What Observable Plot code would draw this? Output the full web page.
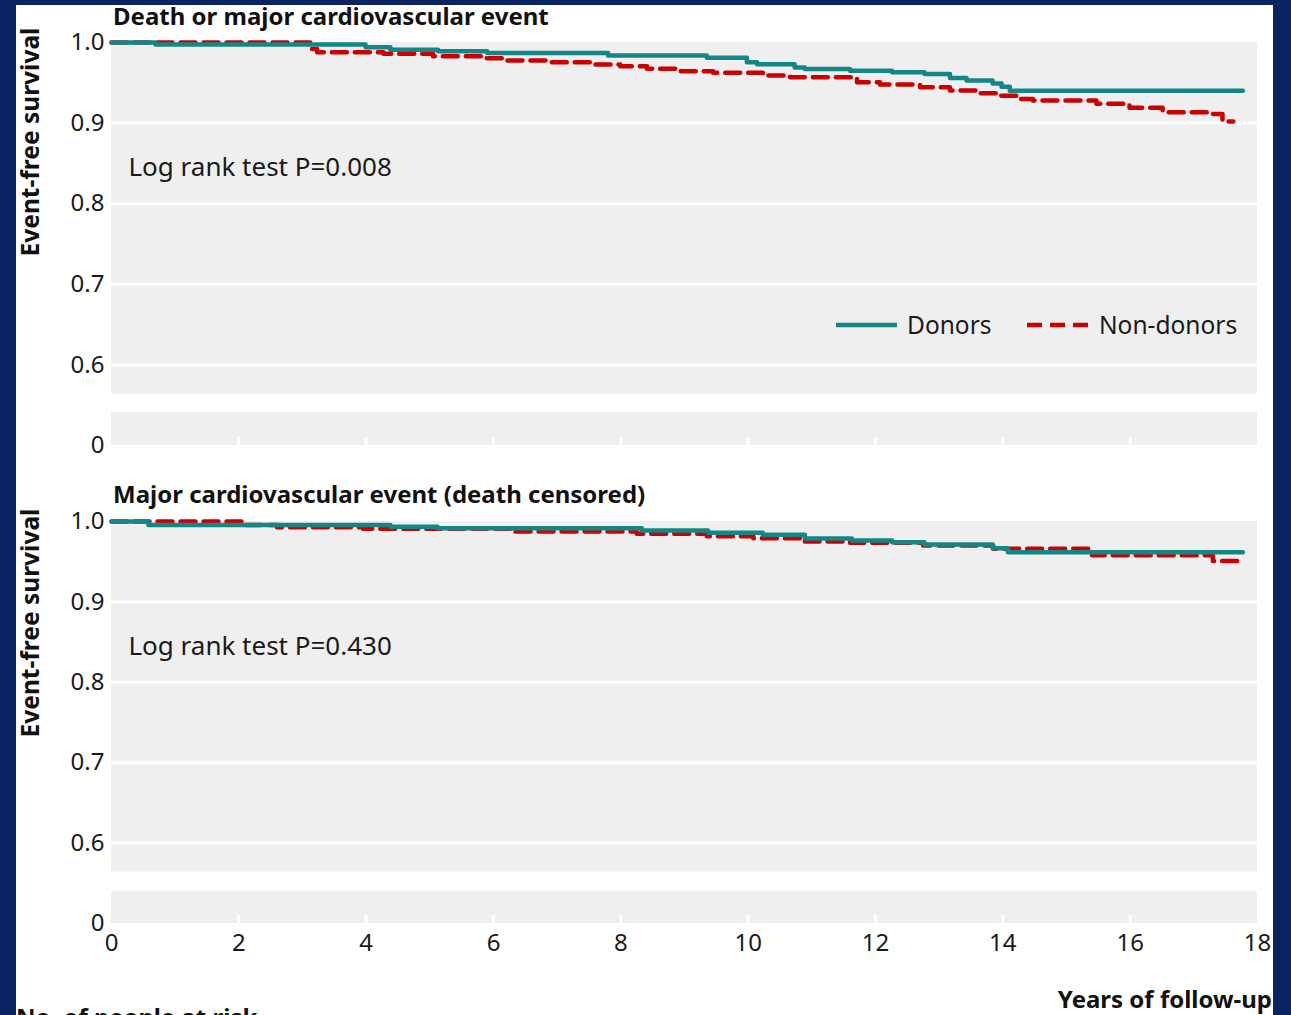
<!DOCTYPE html>
<html>
<head>
<meta charset="utf-8">
<script src="https://cdn.jsdelivr.net/npm/d3@7"></script>
<script src="https://cdn.jsdelivr.net/npm/@observablehq/plot@0.6"></script>
<style>
  html, body { margin: 0; padding: 0; }
  body { background: #0b2360; width: 1291px; height: 1015px; overflow: hidden; position: relative; font-family: "Noto Sans", sans-serif; color: #111; }
  #card { position: absolute; left: 16px; top: 5px; width: 1257px; height: 1040px; background: #ffffff; }
  .abs { position: absolute; white-space: nowrap; }
  .title { font-weight: bold; font-size: 24px; line-height: 28px; color: #111; }
  .ylab { font-weight: bold; font-size: 24.5px; line-height: 28px; height: 28px; width: 300px; text-align: center; transform: rotate(-90deg); transform-origin: 50% 50%; color: #111; }
  .leg { font-size: 24.5px; line-height: 30px; color: #1a1a1a; }
  svg.plot { position: absolute; }
</style>
</head>
<body>
<div id="card"></div>
<script>
// ---------------- data ----------------
const seriesNames = ["Donors", "Non-donors"];
const seriesColors = ["#138785", "#cc0000"];
const xTicks = [0, 2, 4, 6, 8, 10, 12, 14, 16, 18];
const yTicks = [0.6, 0.7, 0.8, 0.9, 1.0];
const gridTicks = [0.6, 0.7, 0.8, 0.9];

// Panel 1: Death or major cardiovascular event
const panel1Title = "Death or major cardiovascular event";
const panel1LogRank = "Log rank test P=0.008";
const donorsDeathYears = [0, 0.69, 3.99, 4.38, 5.13, 5.90, 7.80, 9.35, 9.98, 10.14, 10.73, 10.89, 11.60, 12.26, 12.77, 13.17, 13.43, 13.84, 13.98, 14.11, 17.77];
const donorsDeathSurv  = [1.000, 0.9975, 0.994, 0.991, 0.989, 0.987, 0.984, 0.981, 0.9755, 0.973, 0.969, 0.967, 0.965, 0.963, 0.961, 0.956, 0.953, 0.949, 0.945, 0.940, 0.940];
const nonDonorsDeathYears = [0, 3.12, 3.23, 4.27, 5.05, 5.84, 6.15, 6.89, 7.56, 7.99, 8.41, 8.88, 9.45, 10.23, 10.66, 11.71, 12.07, 12.70, 13.17, 13.59, 13.90, 14.27, 14.47, 15.47, 15.99, 16.51, 17.25, 17.45, 17.62];
const nonDonorsDeathSurv  = [1.000, 0.992, 0.988, 0.986, 0.983, 0.9805, 0.9776, 0.9755, 0.9727, 0.9706, 0.9673, 0.9643, 0.9624, 0.959, 0.957, 0.9507, 0.9478, 0.9445, 0.9404, 0.937, 0.934, 0.930, 0.928, 0.924, 0.919, 0.9134, 0.9114, 0.902, 0.902];

// Panel 2: Major cardiovascular event (death censored)
const panel2Title = "Major cardiovascular event (death censored)";
const panel2LogRank = "Log rank test P=0.430";
const donorsMaceYears = [0, 0.58, 4.38, 5.12, 8.33, 9.37, 10.23, 10.89, 11.63, 12.26, 12.77, 13.84, 14.08, 17.77];
const donorsMaceSurv  = [1.000, 0.9957, 0.9934, 0.9917, 0.9888, 0.986, 0.9835, 0.979, 0.9764, 0.9743, 0.9714, 0.9668, 0.9619, 0.9619];
const nonDonorsMaceYears = [0, 2.05, 2.6, 3.95, 6.3, 8.25, 9.35, 10.08, 10.89, 11.6, 12.75, 13.85, 15.4, 17.3, 17.77];
const nonDonorsMaceSurv  = [1.000, 0.9955, 0.993, 0.991, 0.9876, 0.9847, 0.9818, 0.9793, 0.9752, 0.9735, 0.970, 0.966, 0.958, 0.951, 0.951];

const yLabel = "Event-free survival";
const xLabel = "Years of follow-up";
const riskLabel = "No. of people at risk";

// broken y axis: the value that is drawn as "0", and the gap in the axis
const yZero = 0.5;
const axisBreak = [0.5405, 0.5640];

// ---------------- helpers ----------------
const rows = (t, s) => t.map((d, i) => ({ t: d, s: s[i] }));
const DASH = "15,8";

function panel({ donT, donS, nonT, nonS, logRank, showX, height, marginTop, marginBottom }) {
  const bands = [{ y1: axisBreak[1], y2: 1 }, { y1: yZero, y2: axisBreak[0] }];
  const marks = [
    Plot.rect(bands, { y1: "y1", y2: "y2", fill: "#efefef" }),
    Plot.ruleY(gridTicks, { stroke: "#ffffff", strokeWidth: 3 }),
    Plot.ruleX(xTicks.slice(1, -1), { y1: yZero, y2: yZero + 0.01, stroke: "#ffffff", strokeWidth: 3 }),
    Plot.axisY({
      ticks: [yZero, ...yTicks],
      tickFormat: d => d === yZero ? "0" : d3.format(".1f")(d),
      tickSize: 0, tickPadding: 7, label: null, fontSize: 24
    }),
    Plot.text([logRank], { frameAnchor: "top-left", dx: 17, dy: 125, textAnchor: "start", lineAnchor: "middle", fontSize: 26, fill: "#1a1a1a" }),
    Plot.line(rows(nonT, nonS), { x: "t", y: "s", curve: "step-after", stroke: seriesColors[1], strokeWidth: 4.5, strokeDasharray: DASH }),
    Plot.line(rows(donT, donS), { x: "t", y: "s", curve: "step-after", stroke: seriesColors[0], strokeWidth: 4.5 })
  ];
  if (showX) marks.push(Plot.axisX({ ticks: xTicks, tickSize: 0, tickPadding: 10, label: null, fontSize: 24 }));
  const svg = Plot.plot({
    width: 1257, height, marginLeft: 95, marginRight: 16, marginTop, marginBottom,
    style: { fontFamily: "Noto Sans", fontSize: "24px", color: "#1a1a1a", background: "transparent", overflow: "visible" },
    x: { domain: [0, 18], axis: showX ? undefined : null },
    y: { domain: [yZero, 1] },
    marks
  });
  svg.classList.add("plot");
  return svg;
}

function addDiv(cls, text, css) {
  const d = document.createElement("div");
  d.className = "abs " + cls;
  d.textContent = text;
  Object.assign(d.style, css);
  document.body.appendChild(d);
  return d;
}

// ---------------- panel 1 ----------------
const p1 = panel({ donT: donorsDeathYears, donS: donorsDeathSurv, nonT: nonDonorsDeathYears, nonS: nonDonorsDeathSurv,
  logRank: panel1LogRank, showX: false, height: 430, marginTop: 12, marginBottom: 15 });
p1.style.left = "16px"; p1.style.top = "30px";
document.body.appendChild(p1);

// ---------------- panel 2 ----------------
const p2 = panel({ donT: donorsMaceYears, donS: donorsMaceSurv, nonT: nonDonorsMaceYears, nonS: nonDonorsMaceSurv,
  logRank: panel2LogRank, showX: true, height: 460, marginTop: 13, marginBottom: 45 });
p2.style.left = "16px"; p2.style.top = "508px";
document.body.appendChild(p2);

// ---------------- titles and labels ----------------
addDiv("title", panel1Title, { left: "113px", top: "2px" });
addDiv("title", panel2Title, { left: "113px", top: "480px" });
addDiv("ylab", yLabel, { left: (30 - 150) + "px", top: (142 - 14) + "px" });
addDiv("ylab", yLabel, { left: (30 - 150) + "px", top: (623 - 14) + "px" });
addDiv("title", xLabel, { right: "19px", top: "985px" });
addDiv("title", riskLabel, { left: "16px", top: "1003px" });

// ---------------- legend ----------------
function legendLine(left, top, color, dash) {
  const ns = "http://www.w3.org/2000/svg";
  const s = document.createElementNS(ns, "svg");
  s.setAttribute("width", 62); s.setAttribute("height", 10);
  s.style.position = "absolute"; s.style.left = left + "px"; s.style.top = top + "px";
  const l = document.createElementNS(ns, "line");
  l.setAttribute("x1", 0); l.setAttribute("x2", 61); l.setAttribute("y1", 5); l.setAttribute("y2", 5);
  l.setAttribute("stroke", color); l.setAttribute("stroke-width", 4.5);
  if (dash) l.setAttribute("stroke-dasharray", dash);
  s.appendChild(l);
  document.body.appendChild(s);
}
legendLine(836, 320, seriesColors[0], null);
addDiv("leg", seriesNames[0], { left: "907px", top: "310px" });
legendLine(1027, 320, seriesColors[1], DASH);
addDiv("leg", seriesNames[1], { left: "1099px", top: "310px" });
</script>
</body>
</html>
